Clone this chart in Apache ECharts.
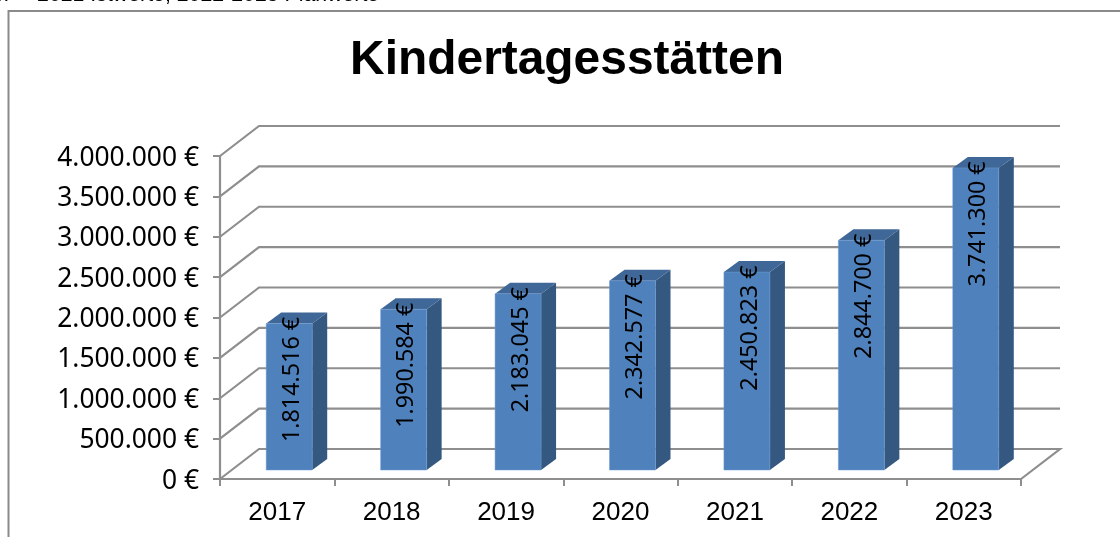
<!DOCTYPE html>
<html>
<head>
<meta charset="utf-8">
<style>
  html, body { margin: 0; padding: 0; background: #fff; }
  #main { width: 1120px; height: 537px; }
</style>
<script src="https://cdn.jsdelivr.net/npm/echarts@6/dist/echarts.min.js"></script>
</head>
<body>
<div id="main"></div>
<script>
const titleText = "Kindertagesstätten";
const noteText = "2017 – 2021 Istwerte, 2022-2023 Planwerte";
const years = ["2017", "2018", "2019", "2020", "2021", "2022", "2023"];
const costs = [1814516, 1990584, 2183045, 2342577, 2450823, 2844700, 3741300];
const yTicks = [0, 500000, 1000000, 1500000, 2000000, 2500000, 3000000, 3500000, 4000000];

const font = '"Liberation Sans", Arial, sans-serif';
const valueFont = '"Noto Sans", sans-serif';
const gridColor = "#8e8e8e";
// Tiefe der 3D-Wand und der Saeulen, in Pixeln
const wallDx = 39, wallDy = -30;
const barOffX = 12, barOffY = -9, barW = 46, barDx = 15, barDy = -11;

function euro(v) {
  return v.toLocaleString("de-DE") + " €";
}

let chart = echarts.init(document.getElementById("main"), null, { renderer: "canvas" });

function renderWall(params, api) {
  let v = api.value(0);
  let p = api.coord([0, v]);
  let x0 = params.coordSys.x;
  let x1 = x0 + params.coordSys.width;
  let y = p[1];
  let pts = [[x0, y], [x0 + wallDx, y + wallDy], [x1 + wallDx, y + wallDy]];
  if (v === 0) {
    // Boden: rechte Kante laeuft schraeg nach vorn
    pts.push([x1, y]);
  }
  return {
    type: "group",
    children: [
      {
        type: "polyline",
        shape: { points: pts },
        style: { stroke: gridColor, lineWidth: 2.2, fill: null },
        silent: true
      },
      {
        // Achsenbeschriftung hier, weil axisLabel sich nicht nach unten schieben laesst
        type: "text",
        x: x0 - 21,
        y: y + 2,
        style: {
          text: euro(v),
          font: "26.4px " + valueFont,
          fill: "#000",
          align: "right",
          verticalAlign: "middle"
        }
      }
    ]
  };
}

function renderBar(params, api) {
  let top = api.coord([api.value(0), api.value(1)]);
  let base = api.coord([api.value(0), 0]);
  let band = api.size([1, 0])[0];
  let x = top[0] - band / 2 + (band - barW) / 2 + barOffX;
  let yt = top[1] + barOffY;
  let yb = base[1] + barOffY;
  return {
    type: "group",
    children: [
      { type: "polygon", shape: { points: [[x + barW, yt], [x + barW + barDx, yt + barDy], [x + barW + barDx, yb + barDy], [x + barW, yb]] }, style: { fill: "#345880" } },
      { type: "polygon", shape: { points: [[x, yt], [x + barDx, yt + barDy], [x + barW + barDx, yt + barDy], [x + barW, yt]] }, style: { fill: "#3f6797" } },
      { type: "rect", shape: { x: x, y: yt, width: barW, height: yb - yt }, style: { fill: "#4f81bd", stroke: "#6f9ad0", lineWidth: 0.5 } },
      {
        type: "text",
        x: x + barW / 2 + 3,
        y: yt + 56,
        rotation: Math.PI / 2,
        style: {
          text: euro(api.value(1)),
          font: "23.3px " + valueFont,
          fill: "#000",
          align: "center",
          verticalAlign: "middle"
        }
      }
    ]
  };
}

chart.setOption({
  animation: false,
  backgroundColor: "#fff",
  title: {
    text: titleText,
    left: 562,
    top: 32,
    textAlign: "center",
    textStyle: { fontFamily: font, fontSize: 47.9, fontWeight: "bold", color: "#000" }
  },
  graphic: [
    { type: "text", x: -34, y: -15.5, style: { text: noteText, font: "21.3px " + font, fill: "#000" } },
    { type: "polyline", shape: { points: [[8.5, 537], [8.5, 11], [1120, 11]] }, style: { stroke: "#8a8a8a", lineWidth: 2, fill: null } }
  ],
  grid: { left: 220, top: 156, width: 801, height: 323, containLabel: false },
  xAxis: {
    type: "category",
    data: years,
    axisLine: { lineStyle: { color: gridColor, width: 2.2 } },
    axisTick: { show: true, alignWithLabel: false, length: 7, lineStyle: { color: gridColor, width: 2 } },
    axisLabel: { color: "#000", fontFamily: font, fontSize: 26, margin: 21 }
  },
  yAxis: {
    type: "value",
    min: 0,
    max: 4000000,
    interval: 500000,
    axisLine: { show: true, lineStyle: { color: gridColor, width: 2.2 } },
    axisTick: { show: true, length: 7, lineStyle: { color: gridColor, width: 2 } },
    splitLine: { show: false },
    axisLabel: { show: false }
  },
  series: [
    {
      type: "custom",
      clip: false,
      silent: true,
      renderItem: renderWall,
      encode: { y: 0 },
      data: yTicks.map(v => [v]),
      z: 1
    },
    {
      type: "custom",
      clip: false,
      renderItem: renderBar,
      encode: { x: 0, y: 1 },
      data: years.map((y, i) => [i, costs[i]]),
      z: 2
    }
  ]
});

window.addEventListener("resize", function () { chart.resize(); });
</script>
</body>
</html>
